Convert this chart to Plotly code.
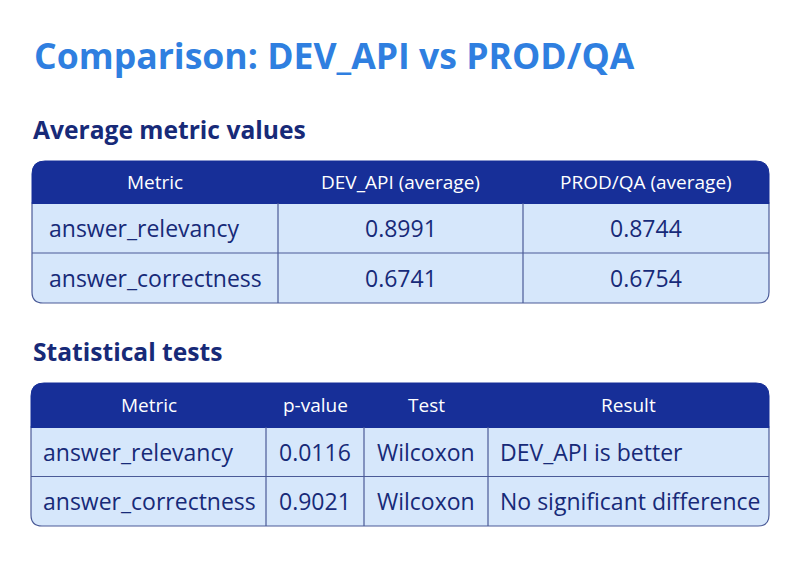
import plotly.graph_objects as go

# ---- data ----
title_text = "Comparison: DEV_API vs PROD/QA"
section1_title = "Average metric values"
section2_title = "Statistical tests"

avg_headers = ["Metric", "DEV_API (average)", "PROD/QA (average)"]
metrics = ["answer_relevancy", "answer_correctness"]
dev_avg = [0.8991, 0.6741]
prod_avg = [0.8744, 0.6754]

test_headers = ["Metric", "p-value", "Test", "Result"]
p_values = [0.0116, 0.9021]
tests = ["Wilcoxon", "Wilcoxon"]
results = ["DEV_API is better", "No significant difference"]

# ---- style ----
FONT = "Open Sans"
HEADER_BG = "#172f98"
BODY_BG = "#d6e7fb"
LINE = "#4b5b98"
TEXT = "#172a78"
TITLE_C = "#2f7fe0"

W, H = 800, 562
OFF = 8  # page body margin compensation

fig = go.Figure()
shapes = []
annotations = []


def top_round(x0, y0, x1, y1, r):
    return (f"M {x0},{y1} L {x0},{y0 + r} Q {x0},{y0} {x0 + r},{y0} "
            f"L {x1 - r},{y0} Q {x1},{y0} {x1},{y0 + r} L {x1},{y1} Z")


def bottom_round(x0, y0, x1, y1, r):
    return (f"M {x0},{y0} L {x1},{y0} L {x1},{y1 - r} Q {x1},{y1} {x1 - r},{y1} "
            f"L {x0 + r},{y1} Q {x0},{y1} {x0},{y1 - r} Z")


def draw_table(col_edges, top, header_h, row_h, headers, rows, aligns,
               head_size=19, cell_size=23, pad=14):
    x0, x1 = col_edges[0], col_edges[-1]
    hb = top + header_h
    bottom = hb + row_h * len(rows)
    shapes.append(dict(type="path", path=bottom_round(x0, hb, x1, bottom, 11),
                       fillcolor=BODY_BG, line=dict(color=LINE, width=1.2),
                       xref="x", yref="y", layer="below"))
    shapes.append(dict(type="path", path=top_round(x0, top, x1, hb + 0.5, 13),
                       fillcolor=HEADER_BG, line=dict(color=HEADER_BG, width=1),
                       xref="x", yref="y", layer="below"))
    for i in range(1, len(rows)):
        y = hb + row_h * i
        shapes.append(dict(type="line", x0=x0, x1=x1, y0=y, y1=y,
                           line=dict(color=LINE, width=1.2), xref="x", yref="y"))
    for xe in col_edges[1:-1]:
        shapes.append(dict(type="line", x0=xe, x1=xe, y0=hb, y1=bottom,
                           line=dict(color=LINE, width=1.2), xref="x", yref="y"))
    for j, h in enumerate(headers):
        annotations.append(dict(x=(col_edges[j] + col_edges[j + 1]) / 2,
                                y=top + header_h / 2, text=h, showarrow=False,
                                xanchor="center", yanchor="middle",
                                font=dict(family=FONT, size=head_size, color="white"),
                                xref="x", yref="y"))
    for i, row in enumerate(rows):
        yc = hb + row_h * (i + 0.5)
        for j, val in enumerate(row):
            if aligns[j] == "left":
                x, anc = col_edges[j] + pad, "left"
            else:
                x, anc = (col_edges[j] + col_edges[j + 1]) / 2, "center"
            annotations.append(dict(x=x, y=yc, text=val, showarrow=False,
                                    xanchor=anc, yanchor="middle",
                                    font=dict(family=FONT, size=cell_size, color=TEXT),
                                    xref="x", yref="y"))


rows1 = [[m, f"{d:.4f}", f"{p:.4f}"] for m, d, p in zip(metrics, dev_avg, prod_avg)]
draw_table([32, 278, 523, 769], 161, 42, 50, avg_headers, rows1,
           ["left", "center", "center"], pad=15)

rows2 = [[m, f"{p:.4f}", t, r] for m, p, t, r in zip(metrics, p_values, tests, results)]
draw_table([31, 266, 364, 488, 769], 383, 44, 49.5, test_headers, rows2,
           ["left", "center", "center", "left"], pad=10)

annotations.append(dict(x=32, y=55, text=f"<b>{title_text}</b>", showarrow=False,
                        xanchor="left", yanchor="middle",
                        font=dict(family=FONT, size=35.6, color=TITLE_C),
                        xref="x", yref="y"))
annotations.append(dict(x=31, y=129, text=f"<b>{section1_title}</b>", showarrow=False,
                        xanchor="left", yanchor="middle",
                        font=dict(family=FONT, size=24.6, color=TEXT),
                        xref="x", yref="y"))
annotations.append(dict(x=31, y=351, text=f"<b>{section2_title}</b>", showarrow=False,
                        xanchor="left", yanchor="middle",
                        font=dict(family=FONT, size=24.6, color=TEXT),
                        xref="x", yref="y"))

fig.update_layout(
    width=W, height=H,
    margin=dict(l=0, r=0, t=0, b=0),
    paper_bgcolor="white", plot_bgcolor="white",
    xaxis=dict(range=[OFF, W + OFF], visible=False, fixedrange=True),
    yaxis=dict(range=[H + OFF, OFF], visible=False, fixedrange=True),
    shapes=shapes, annotations=annotations,
    showlegend=False,
)

fig.write_html("out.html")
